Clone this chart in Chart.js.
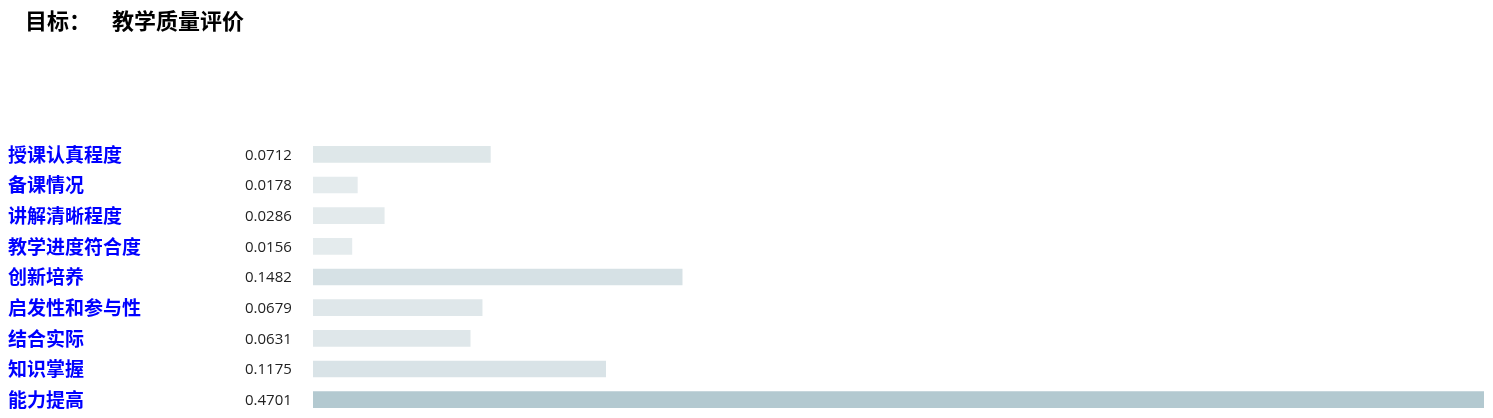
<!DOCTYPE html>
<html>
<head>
<meta charset="utf-8">
<script src="https://cdn.jsdelivr.net/npm/chart.js@4"></script>
<style>
  body { margin: 0; background: #fff; }
  #wrap { position: relative; width: 1493px; height: 418px; }
  #title { position: absolute; left: 25px; top: 3px; font-family: "Noto Sans CJK SC", sans-serif; font-weight: bold; color: #000; white-space: nowrap; }
  #title .k { font-size: 22px; }
  #title .v { font-size: 22px; margin-left: 21px; }
  canvas { position: absolute; left: 0; top: 0; }
</style>
</head>
<body>
<div id="wrap">
  <canvas id="myChart" width="1493" height="418"></canvas>
  <div id="title"><span class="k">目标：</span><span class="v">教学质量评价</span></div>
</div>
<script>
// criteria and their weights
const categories = ['授课认真程度', '备课情况', '讲解清晰程度', '教学进度符合度', '创新培养', '启发性和参与性', '结合实际', '知识掌握', '能力提高'];
const weights = [0.0712, 0.0178, 0.0286, 0.0156, 0.1482, 0.0679, 0.0631, 0.1175, 0.4701];

// bar shade gets darker as the weight grows
function shade(v, max) {
    const t = v / max;
    const a = [230, 236, 238], b = [179, 201, 208];
    const c = a.map((x, i) => Math.round(x + (b[i] - x) * t));
    return 'rgb(' + c.join(',') + ')';
}
const maxW = Math.max(...weights);

// draws the row names and the weight numbers to the left of the bars
const rowText = {
    id: 'rowText',
    afterDraw(chart) {
        const c = chart.ctx;
        const y = chart.scales.y;
        c.save();
        c.textBaseline = 'middle';
        categories.forEach((name, i) => {
            const py = y.getPixelForValue(i);
            c.fillStyle = '#0000ff';
            c.font = 'bold 19px "Noto Sans CJK SC"';
            c.fillText(name, 8, py);
            c.fillStyle = '#222';
            c.font = '15px "Open Sans"';
            c.fillText(weights[i].toFixed(4), 245, py + 1);
        });
        c.restore();
    }
};

const ctx = document.getElementById('myChart');
new Chart(ctx, {
    type: 'bar',
    data: {
        labels: categories,
        datasets: [{
            data: weights,
            backgroundColor: weights.map(v => shade(v, maxW)),
            borderWidth: 0,
            barThickness: 16,
        }]
    },
    options: {
        indexAxis: 'y',
        responsive: false,
        animation: false,
        layout: { padding: { left: 313, right: 9, top: 139, bottom: 3 } },
        scales: {
            x: { min: 0, max: maxW, display: false, grid: { display: false } },
            y: { display: false, grid: { display: false } }
        },
        plugins: {
            legend: { display: false },
            tooltip: { enabled: false }
        }
    },
    plugins: [rowText]
});
</script>
</body>
</html>
